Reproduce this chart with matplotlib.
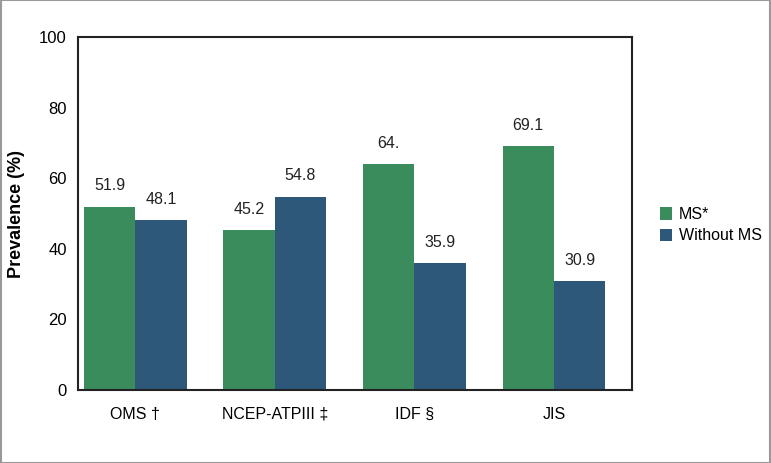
import numpy as np
import matplotlib
matplotlib.use('Agg')
from matplotlib import pyplot as plt

categories = ['OMS †', 'NCEP-ATPIII ‡', 'IDF §', 'JIS']
ms_values = [51.9, 45.2, 64.0, 69.1]
without_values = [48.1, 54.8, 35.9, 30.9]
ms_labels = ['51.9', '45.2', '64.', '69.1']
without_labels = ['48.1', '54.8', '35.9', '30.9']

plt.rcParams['font.family'] = ['Liberation Sans', 'DejaVu Sans']

green = '#3b8c5d'
blue = '#2d5879'

fig = plt.figure(figsize=(7.71, 4.63), dpi=100)
ax = fig.add_axes([78/771, 73/463, 554/771, 353/463])

x = np.arange(len(categories))
w = 0.368
ax.bar(x - w/2, ms_values, w, color=green, label='MS*')
ax.bar(x + w/2, without_values, w, color=blue, label='Without MS')

for i in range(len(categories)):
    ax.text(x[i] - w/2, ms_values[i] + 3.8, ms_labels[i], ha='center', va='bottom', fontsize=11.5, color='#222222')
    ax.text(x[i] + w/2, without_values[i] + 3.8, without_labels[i], ha='center', va='bottom', fontsize=11.5, color='#222222')

ax.set_xlim(-0.41, 3.56)
ax.set_ylim(0, 100)
ax.set_yticks([0, 20, 40, 60, 80, 100])
ax.set_xticks(x)
ax.set_xticklabels(categories, fontsize=11.5)
ax.tick_params(axis='x', length=0, pad=12)
ax.tick_params(axis='y', length=0, pad=8, labelsize=12)
ax.set_ylabel('Prevalence (%)', fontsize=13, fontweight='bold', labelpad=10)
for s in ax.spines.values():
    s.set_linewidth(1.5)
    s.set_color('#222222')

ax.legend(loc='center left', bbox_to_anchor=(1.05, 0.467), frameon=False,
          fontsize=11.5, handlelength=0.8, handleheight=0.8, handletextpad=0.4, labelspacing=0.4,
          borderpad=0, borderaxespad=0)

fig.patches.append(plt.Rectangle((0.001, 0.001), 0.998, 0.998, transform=fig.transFigure,
                                 fill=False, edgecolor='#999999', linewidth=1.5))

fig.savefig('out.png', dpi=100)
